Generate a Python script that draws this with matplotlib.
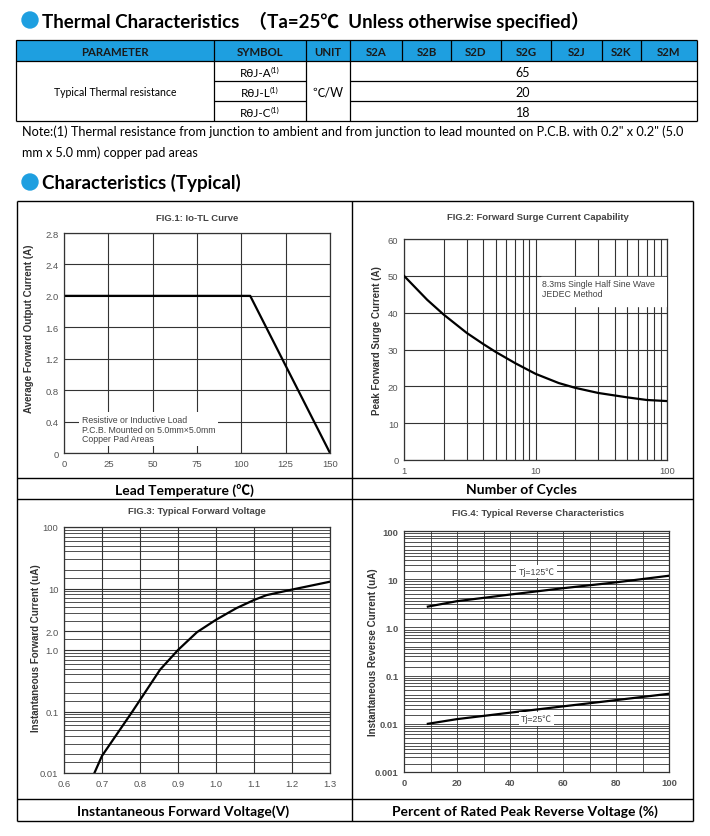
import matplotlib
matplotlib.use("Agg")
import matplotlib.pyplot as plt
from matplotlib.patches import Rectangle, Circle
from matplotlib.ticker import FixedLocator, LogLocator, MultipleLocator, NullFormatter

BODY = ["Lato", "Noto Sans CJK SC", "DejaVu Sans"]
CHART = ["Liberation Sans", "DejaVu Sans"]
BLUE = "#1E9FE0"

# thermal table
table_columns = ["PARAMETER", "SYMBOL", "UNIT", "S2A", "S2B", "S2D", "S2G", "S2J", "S2K", "S2M"]
parameter_name = "Typical Thermal resistance"
symbols = ["RθJ-A", "RθJ-L", "RθJ-C"]
unit_label = "℃/W"
thermal_values = [65, 20, 18]

# FIG.1 Io-TL curve
lead_temp = [0, 105, 150]
io_current = [2.0, 2.0, 0.0]

# FIG.2 forward surge current
cycles = [1, 1.5, 2, 3, 4, 5, 7, 10, 15, 20, 30, 50, 70, 100]
surge_current = [50, 43.5, 39.5, 34.5, 31.5, 29.3, 26.3, 23.4, 20.9, 19.6, 18.2, 17.0, 16.3, 16.0]

# FIG.3 typical forward voltage
fwd_voltage = [0.68, 0.70, 0.78, 0.853, 0.90, 0.95, 1.00, 1.054, 1.10, 1.133, 1.20, 1.30]
fwd_current = [0.01, 0.019, 0.10, 0.48, 1.0, 1.95, 3.1, 4.8, 6.5, 7.8, 9.6, 12.9]

# FIG.4 typical reverse characteristics
pct_125 = [9, 20, 40, 60, 80, 100]
rev_125 = [2.7, 3.5, 4.8, 6.5, 8.6, 11.8]
pct_25 = [9, 20, 40, 60, 80, 100]
rev_25 = [0.0100, 0.0125, 0.017, 0.023, 0.031, 0.042]

W, H = 710, 837
fig = plt.figure(figsize=(W / 100, H / 100), dpi=100)

# page layer in pixel units
bg = fig.add_axes([0, 0, 1, 1], zorder=0)
bg.set_xlim(0, W)
bg.set_ylim(H, 0)
bg.axis("off")


def hline(y, x0, x1, lw=0.9):
    bg.plot([x0, x1], [y, y], color="black", lw=lw, solid_capstyle="butt")


def vline(x, y0, y1, lw=0.9):
    bg.plot([x, x], [y0, y1], color="black", lw=lw, solid_capstyle="butt")


# --- section 1: thermal characteristics
bg.add_patch(Circle((30, 21), 8, color=BLUE))
bg.text(42, 21, "Thermal Characteristics  （Ta=25℃  Unless otherwise specified）",
        family=BODY, fontsize=13.5, fontweight="bold", va="center", ha="left")

col_edges = [16, 214, 306, 350, 402, 451, 501, 551, 602, 641, 697]
row_edges = [41, 62, 82, 102, 122]
bg.add_patch(Rectangle((16, 41), 697 - 16, 21, color=BLUE, lw=0))
for name, x0, x1 in zip(table_columns, col_edges[:-1], col_edges[1:]):
    bg.text((x0 + x1) / 2, 52, name, family=BODY, fontsize=8.2, fontweight="bold",
            ha="center", va="center", color="#1a1a1a")
for x in [16, 214, 306, 350, 697]:
    vline(x, 41, 122)
for x in col_edges[4:-1]:
    vline(x, 41, 62)
for y in [41, 62, 122]:
    hline(y, 16, 697)
for y in row_edges[2:4]:
    hline(y, 214, 306)
    hline(y, 350, 697)

bg.text(115, 92, parameter_name, family=BODY, fontsize=7.6, ha="center", va="center")
bg.text(328, 92, unit_label, family=BODY, fontsize=9, ha="center", va="center")
for i, (sym, val) in enumerate(zip(symbols, thermal_values)):
    yc = (row_edges[i + 1] + row_edges[i + 2]) / 2
    t = bg.text(256, yc + 1, sym, family=BODY, fontsize=8.5, ha="center", va="center")
    bg.annotate("(1)", xy=(1, 0.75), xycoords=t, xytext=(-1, 0), textcoords="offset points",
                fontsize=5.5, family=BODY, va="center")
    bg.text(523, yc + 1, str(val), family=BODY, fontsize=9, ha="center", va="center")

bg.text(22, 132, 'Note:(1) Thermal resistance from junction to ambient and from junction to lead '
        'mounted on P.C.B. with 0.2" x 0.2" (5.0', family=BODY, fontsize=9.2, va="center")
bg.text(22, 153, "mm x 5.0 mm) copper pad areas", family=BODY, fontsize=9, va="center")

# --- section 2: characteristics
bg.add_patch(Circle((30, 183), 8, color=BLUE))
bg.text(42, 183, "Characteristics (Typical)", family=BODY, fontsize=13.5,
        fontweight="bold", va="center", ha="left")

for y in [202, 479, 500, 800, 822]:
    hline(y, 17, 693, lw=1.0)
for x in [17, 352, 693]:
    vline(x, 202, 822, lw=1.0)

bottom_labels = [(184, 490, "Lead Temperature (℃)"), (522, 490, "Number of Cycles"),
                 (183, 812, "Instantaneous Forward Voltage(V)"),
                 (525, 812, "Percent of Rated Peak Reverse Voltage (%)")]
for x, y, s in bottom_labels:
    bg.text(x, y, s, family=BODY, fontsize=10, fontweight="bold", ha="center", va="center")

chart_titles = [(197, 218, "FIG.1: Io-TL Curve"), (538, 217, "FIG.2: Forward Surge Current Capability"),
                (197, 511, "FIG.3: Typical Forward Voltage"), (538, 514, "FIG.4: Typical Reverse Characteristics")]
for x, y, s in chart_titles:
    bg.text(x, y, s, family=CHART, fontsize=6.8, fontweight="bold", ha="center",
            va="center", color="#444444")

ylabels = [(29, 329, "Average Forward Output Current (A)"), (377, 341, "Peak Forward Surge Current (A)"),
           (36, 648, "Instantaneous Forward Current (uA)"), (373, 652, "Instantaneous Reverse Current (uA)")]
for x, y, s in ylabels:
    bg.text(x, y, s, family=CHART, fontsize=7, fontweight="bold", rotation=90,
            ha="center", va="center", color="#333333")


def make_axes(left, right, top, bottom):
    ax = fig.add_axes([left / W, 1 - bottom / H, (right - left) / W, (bottom - top) / H], zorder=1)
    for sp in ax.spines.values():
        sp.set_color("#333333")
        sp.set_linewidth(0.9)
    ax.tick_params(which="both", length=0, labelsize=6.8, labelcolor="#555555", pad=4)
    return ax


def style_labels(ax, bold=False):
    for lab in ax.get_xticklabels() + ax.get_yticklabels():
        lab.set_family(CHART)
        if bold:
            lab.set_fontweight("bold")


GRID = dict(color="#333333", lw=0.8)

# FIG.1
ax1 = make_axes(64, 330, 234, 454)
ax1.plot(lead_temp, io_current, color="black", lw=1.6)
ax1.set_xlim(0, 150)
ax1.set_ylim(0, 2.8)
ax1.set_xticks([0, 25, 50, 75, 100, 125, 150])
ax1.set_yticks([0, 0.4, 0.8, 1.2, 1.6, 2.0, 2.4, 2.8])
ax1.set_yticklabels(["0", "0.4", "0.8", "1.2", "1.6", "2.0", "2.4", "2.8"])
ax1.grid(True, **GRID)
ax1.text(10, 0.48, "Resistive or Inductive Load\nP.C.B. Mounted on 5.0mm×5.0mm\nCopper Pad Areas",
         family=CHART, fontsize=6.3, color="#444444", va="top", linespacing=1.05,
         bbox=dict(facecolor="white", edgecolor="none", pad=2))
style_labels(ax1)

# FIG.2
ax2 = make_axes(404, 667, 240, 461)
ax2.set_xscale("log")
ax2.plot(cycles, surge_current, color="black", lw=1.6, zorder=4)
ax2.set_xlim(1, 100)
ax2.set_ylim(0, 60)
ax2.set_yticks(range(0, 61, 10))
ax2.xaxis.set_major_locator(FixedLocator([1, 10, 100]))
ax2.set_xticklabels(["1", "10", "100"])
ax2.xaxis.set_minor_locator(LogLocator(subs=range(2, 10)))
ax2.xaxis.set_minor_formatter(NullFormatter())
ax2.grid(True, which="both", **GRID)
ax2.add_patch(Rectangle((11, 41.8), 88, 7.8, color="white", zorder=3))
ax2.text(11.3, 46.6, "8.3ms Single Half Sine Wave\nJEDEC Method", family=CHART, fontsize=6.3,
         color="#444444", va="center", linespacing=1.1, zorder=4)
style_labels(ax2)

# FIG.3
ax3 = make_axes(64, 330, 528, 774)
ax3.set_yscale("log")
ax3.plot(fwd_voltage, fwd_current, color="black", lw=1.6)
ax3.set_xlim(0.6, 1.3)
ax3.set_ylim(0.01, 100)
ax3.set_xticks([0.6, 0.7, 0.8, 0.9, 1.0, 1.1, 1.2, 1.3])
ax3.set_xticklabels(["0.6", "0.7", "0.8", "0.9", "1.0", "1.1", "1.2", "1.3"])
ax3.yaxis.set_major_locator(FixedLocator([0.01, 0.1, 1.0, 2.0, 10, 100]))
ax3.set_yticklabels(["0.01", "0.1", "1.0", "2.0", "10", "100"])
ax3.yaxis.set_minor_locator(LogLocator(subs=[1.5, 2, 3, 4, 5, 6, 7, 8, 9]))
ax3.yaxis.set_minor_formatter(NullFormatter())
ax3.grid(True, which="major", **GRID)
ax3.grid(True, which="minor", axis="y", color="#333333", lw=0.6)
style_labels(ax3)

# FIG.4
ax4 = make_axes(404, 669, 532, 773)
ax4.set_yscale("log")
ax4.plot(pct_125, rev_125, color="black", lw=1.6, zorder=4)
ax4.plot(pct_25, rev_25, color="black", lw=1.6, zorder=4)
ax4.set_xlim(0, 100)
ax4.set_ylim(0.001, 100)
ax4.set_xticks([0, 20, 40, 60, 80, 100])
ax4.xaxis.set_minor_locator(MultipleLocator(10))
ax4.yaxis.set_major_locator(FixedLocator([0.001, 0.01, 0.1, 1.0, 10, 100]))
ax4.set_yticklabels(["0.001", "0.01", "0.1", "1.0", "10", "100"])
ax4.yaxis.set_minor_locator(LogLocator(subs=[1.5, 2, 2.5, 3, 3.5, 4, 5, 6, 7, 8, 9]))
ax4.yaxis.set_minor_formatter(NullFormatter())
ax4.grid(True, which="both", color="#333333", lw=0.6)
for s, y in [("Tj=125℃", 14.4), ("Tj=25℃", 0.0126)]:
    ax4.text(50, y, s, family=["Liberation Sans", "Noto Sans CJK SC"], fontsize=6.3,
             color="#444444", ha="center", va="center", zorder=4,
             bbox=dict(facecolor="white", edgecolor="none", pad=1.5))
style_labels(ax4, bold=True)

fig.savefig("out.png", dpi=100)
